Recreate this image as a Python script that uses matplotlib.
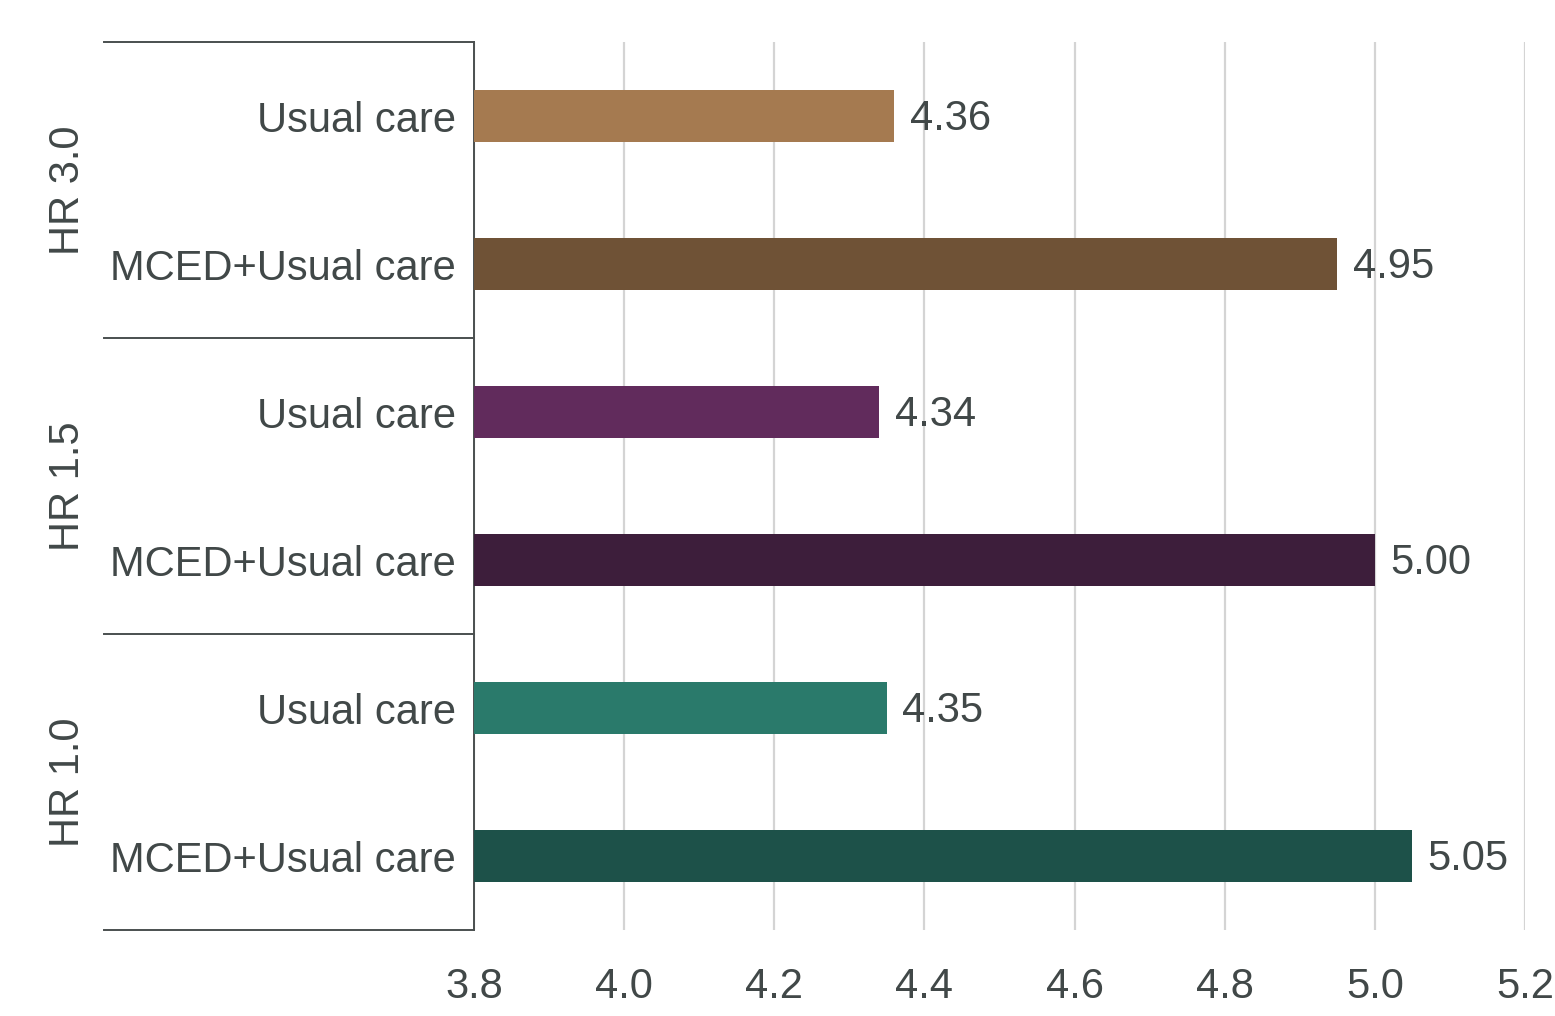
import matplotlib.pyplot as plt
import matplotlib.transforms as mtransforms

plt.rcParams['font.family'] = ['Liberation Sans', 'DejaVu Sans']

groups = ['HR 3.0', 'HR 1.5', 'HR 1.0']
arms = ['Usual care', 'MCED+Usual care']
values = [4.36, 4.95, 4.34, 5.00, 4.35, 5.05]
colors = ['#A57A50', '#6F5236', '#612B5C', '#3D1E3B', '#2A7A6B', '#1D5149']
xticks = [3.8, 4.0, 4.2, 4.4, 4.6, 4.8, 5.0, 5.2]

text_color = '#414848'
fs = 30

fig = plt.figure(figsize=(15.55, 10.16), dpi=100)
ax = fig.add_axes([474 / 1555, 1 - 930 / 1016, (1525 - 474) / 1555, (930 - 42) / 1016])

labels = arms * len(groups)
n = len(values)
ypos = [n - 1 - i for i in range(n)]

ax.barh(ypos, values, height=0.35, color=colors, zorder=3)
for y, v in zip(ypos, values):
    ax.annotate(f'{v:.2f}', xy=(v, y), xytext=(11, -2), textcoords='offset points',
                va='center', ha='left', fontsize=fs, color=text_color)

ax.set_xlim(3.8, 5.2)
ax.set_ylim(-0.5, n - 0.5)
ax.set_xticks(xticks)
ax.set_xticklabels([f'{t:.1f}' for t in xticks])
ax.set_yticks(ypos)
ax.set_yticklabels(labels)
ax.tick_params(axis='both', length=0, labelsize=fs, colors=text_color)
ax.tick_params(axis='x', pad=27)
ax.tick_params(axis='y', pad=13)

ax.grid(axis='x', color='#D4D4D4', linewidth=1.6, zorder=0)
for side in ['top', 'right', 'bottom']:
    ax.spines[side].set_visible(False)
ax.spines['left'].set_color('#4A4F4F')
ax.spines['left'].set_linewidth(1.4)

# group separators and group names on the left side
trans = mtransforms.blended_transform_factory(ax.transAxes, ax.transData)
x_left = (104 - 474) / 1051
for k in range(len(groups) + 1):
    yb = n - 0.5 - 2 * k
    ax.plot([x_left, 0], [yb, yb], transform=trans, color='#4A4F4F',
            linewidth=1.4, clip_on=False)
for k, g in enumerate(groups):
    yc = n - 1.5 - 2 * k
    ax.text((68 - 474) / 1051, yc, g, transform=trans, rotation=90,
            ha='center', va='center', fontsize=fs, color=text_color)

fig.savefig('out.png', dpi=100)
